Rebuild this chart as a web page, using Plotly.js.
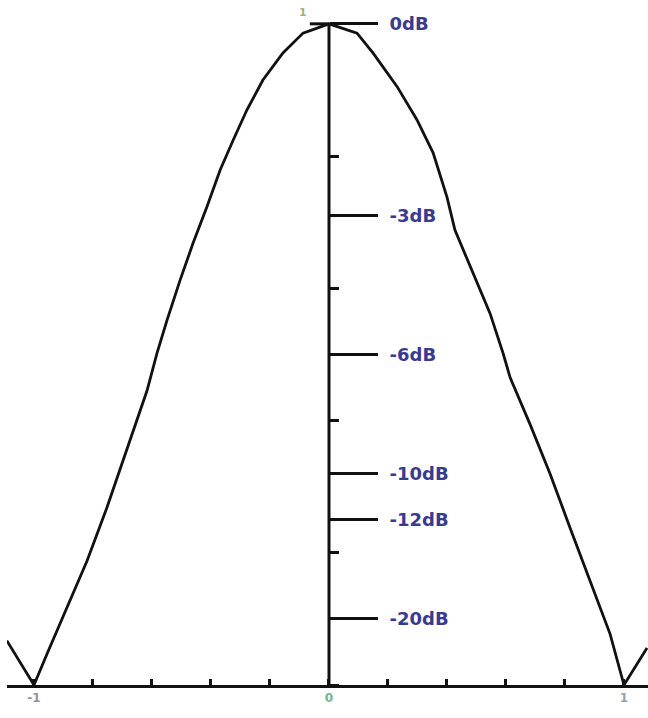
<!DOCTYPE html>
<html>
<head>
<meta charset="utf-8">
<script src="https://cdn.plot.ly/plotly-3.0.1.min.js"></script>
<style>html,body{margin:0;padding:0;background:#fff;}#chart{width:648px;height:718px;}</style>
</head>
<body>
<div id="chart"></div>
<script>
// Beam pattern (normalised amplitude)
const beamX = [-1.092, -1.0, -0.956, -0.888, -0.820, -0.753, -0.685, -0.617, -0.583, -0.549, -0.505, -0.461, -0.414, -0.369, -0.325, -0.278, -0.224, -0.156, -0.088, 0,
               0.095, 0.149, 0.231, 0.298, 0.353, 0.400, 0.427, 0.488, 0.546, 0.590, 0.614, 0.681, 0.749, 0.817, 0.885, 0.953, 1.0, 1.078];
const beamY = [0.067, 0.0, 0.047, 0.117, 0.188, 0.268, 0.355, 0.445, 0.502, 0.552, 0.612, 0.668, 0.723, 0.779, 0.824, 0.870, 0.915, 0.956, 0.986, 1.0,
               0.986, 0.956, 0.905, 0.855, 0.805, 0.738, 0.688, 0.623, 0.562, 0.502, 0.465, 0.395, 0.320, 0.238, 0.158, 0.077, 0.0, 0.056];

// dB reference levels on the vertical axis
const dbLevels = [1.0, 0.71, 0.50, 0.32, 0.25, 0.10];
const dbLabels = ['0dB', '-3dB', '-6dB', '-10dB', '-12dB', '-20dB'];

// x-axis tick labels
const xTickVals = [-1, 0, 1];
const xTickLabels = ['-1', '0', '1'];
const xTickColors = ['#8d93a3', '#6fb596', '#9a9ea6'];

const xRange = [-1.0915, 1.0814];
const yRange = [0, 1.030];
const yPos = -xRange[0] / (xRange[1] - xRange[0]);

const trace = {
  x: beamX, y: beamY, type: 'scatter', mode: 'lines',
  line: {color: '#111', width: 2.8}, hoverinfo: 'skip'
};

const layout = {
  width: 648, height: 718,
  margin: {l: 7, r: 0, t: 4, b: 33},
  paper_bgcolor: '#fff', plot_bgcolor: '#fff',
  showlegend: false,
  xaxis: {
    range: xRange, showgrid: false, zeroline: false,
    showline: true, linecolor: '#111', linewidth: 3,
    tickmode: 'array', tickvals: xTickVals,
    ticktext: xTickLabels.map((t, i) => '<span style="color:' + xTickColors[i] + '">' + t + '</span>'),
    ticks: 'inside', ticklen: 6, tickwidth: 3, tickcolor: '#111',
    tickfont: {family: 'DejaVu Sans', size: 12, color: '#8d93a3', weight: 'bold'},
    minor: {tick0: 0, dtick: 0.2, ticks: 'inside', ticklen: 6, tickwidth: 3, tickcolor: '#111', showgrid: false}
  },
  yaxis: {
    range: yRange, showgrid: false, zeroline: false,
    anchor: 'free', position: yPos, side: 'right',
    showline: false,
    tickmode: 'array', tickvals: dbLevels, ticktext: dbLabels,
    ticks: 'outside', ticklen: 48, tickwidth: 3, tickcolor: '#111',
    ticklabelstandoff: 8,
    tickfont: {family: 'DejaVu Sans', size: 18, color: '#3a3a8e', weight: 'bold'},
    minor: {tick0: 0, dtick: 0.2, ticks: 'outside', ticklen: 9, tickwidth: 3, tickcolor: '#111', showgrid: false}
  },
  shapes: [
    {type: 'line', xref: 'x', yref: 'y', x0: 0, x1: 0, y0: 0, y1: 1, line: {color: '#111', width: 3}},
    {type: 'line', xref: 'x', yref: 'y', x0: -0.065, x1: 0, y0: 1, y1: 1, line: {color: '#111', width: 3}}
  ],
  annotations: [
    {x: -0.088, y: 1.017, xref: 'x', yref: 'y', text: '1', showarrow: false,
     font: {family: 'DejaVu Sans', size: 11, color: '#a9ae7e', weight: 'bold'}}
  ]
};

Plotly.newPlot('chart', [trace], layout, {staticPlot: true, displayModeBar: false});
</script>
</body>
</html>
